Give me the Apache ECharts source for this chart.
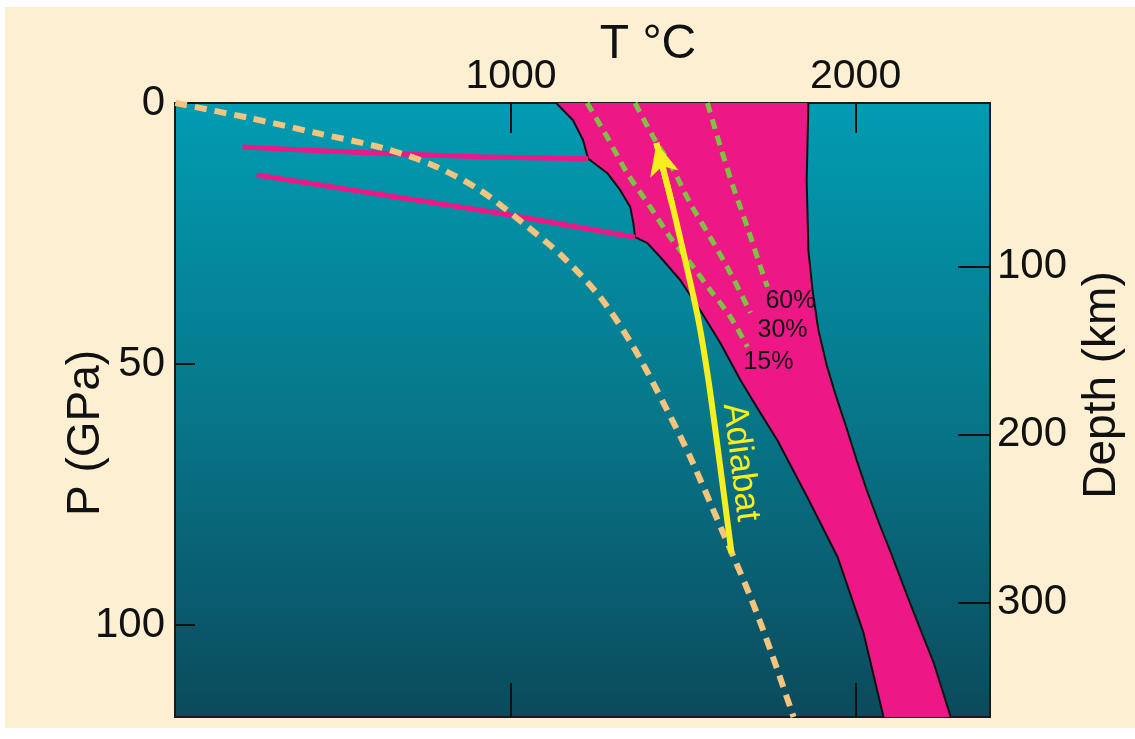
<!DOCTYPE html>
<html>
<head>
<meta charset="utf-8">
<script src="https://cdn.jsdelivr.net/npm/echarts@6/dist/echarts.min.js"></script>
<style>
html,body{margin:0;padding:0;background:#fff}
#main{width:1135px;height:739px}
</style>
</head>
<body>
<div id="main"></div>
<script>
// axis ticks
var tTicks = [1000, 2000];
var pTicks = [0, 50, 100];
var depthTicks = [100, 200, 300];

// solidus (left edge of melt field)
var solidusT = [1131, 1180, 1209, 1224, 1233, 1279, 1317, 1346, 1355, 1360, 1395, 1433, 1491, 1549, 1608, 1666, 1724, 1773, 1860, 1948, 2023, 2081];
var solidusP = [0, 3.3, 7.1, 10.7, 11.1, 13.4, 16.7, 19.9, 23.0, 25.7, 26.8, 29.5, 33.9, 39.7, 46.0, 53.1, 59.4, 64.6, 75.5, 87.0, 101.5, 117.6];

// liquidus (right edge of melt field)
var liquidusT = [1863, 1858, 1863, 1875, 1892, 1916, 1942, 1974, 2003, 2032, 2067, 2105, 2151, 2189, 2227, 2276];
var liquidusP = [0, 14.8, 28.2, 35.8, 43.5, 50.2, 55.9, 62.3, 68.4, 74.1, 80.3, 86.6, 94.6, 101.0, 107.3, 117.6];

// the two pink lines meeting the solidus
var upperLineT = [221, 532, 910, 1224];
var upperLineP = [8.43, 9.39, 10.3, 10.7];
var lowerLineT = [262, 968, 1360];
var lowerLineP = [13.8, 21.1, 25.7];

// geotherm (dashed)
var geothermT = [26, 241, 436, 628, 773, 910, 1035, 1151, 1259, 1355, 1453, 1520, 1616, 1695, 1753, 1820];
var geothermP = [0, 2.87, 5.75, 8.62, 11.9, 16.7, 23.0, 29.5, 37.2, 46.7, 58.8, 67.8, 82.4, 94.6, 104.8, 117.6];

// melt fraction isopleths
var melt15T = [1221, 1279, 1337, 1404, 1462, 1529, 1578, 1637, 1686];
var melt15P = [0, 6.51, 13.4, 19.9, 25.7, 31.4, 35.8, 41.0, 46.7];
var melt30T = [1360, 1413, 1471, 1520, 1578, 1637, 1695];
var melt30P = [0, 6.51, 12.8, 19.2, 25.7, 32.6, 40.2];
var melt60T = [1570, 1608, 1645, 1686, 1724, 1744];
var melt60P = [0, 8.43, 16.1, 23.8, 31.4, 35.2];

// adiabat (bottom to top)
var adiabatT = [1640, 1605, 1573, 1544, 1512, 1468, 1422];
var adiabatP = [86.2, 68.6, 53.1, 41.6, 32.0, 19.5, 7.66];

var FONT = '"Liberation Sans", Arial, sans-serif';

function pts(ts, ps) {
    return ts.map(function (t, i) { return [t, ps[i]]; });
}
function plain(v) {
    return String(v);
}

var chart = echarts.init(document.getElementById('main'));
var n = adiabatT.length;

function meltLine(name, ts, ps, off) {
    return {
        name: name,
        type: 'line',
        data: pts(ts, ps),
        smooth: 0.3,
        symbol: 'none',
        lineStyle: {color: '#7dc243', width: 5, type: [10, 7]},
        endLabel: {
            show: true,
            formatter: name,
            distance: 0,
            offset: off,
            align: 'left',
            verticalAlign: 'middle',
            fontSize: 25,
            fontFamily: FONT,
            color: '#111'
        },
        z: 4
    };
}

var option = {
    animation: false,
    backgroundColor: 'transparent',
    graphic: [
        {type: 'rect', shape: {x: 5, y: 7, width: 1130, height: 721}, style: {fill: '#fdf0d2'}, z: -100},
        {type: 'text', x: 648, y: 45, style: {text: 'T °C', fontSize: 48, fontFamily: FONT, fill: '#111', align: 'center', verticalAlign: 'middle'}},
        {type: 'text', x: 86, y: 433, rotation: Math.PI / 2, style: {text: 'P (GPa)', fontSize: 46, fontFamily: FONT, fill: '#111', align: 'center', verticalAlign: 'middle'}},
        {type: 'text', x: 1102, y: 385, rotation: Math.PI / 2, style: {text: 'Depth (km)', fontSize: 46, fontFamily: FONT, fill: '#111', align: 'center', verticalAlign: 'middle'}}
    ],
    grid: {
        left: 175, top: 103, width: 815, height: 614,
        show: true,
        borderColor: '#1a1a1a',
        borderWidth: 2,
        backgroundColor: new echarts.graphic.LinearGradient(0, 0, 0, 1, [
            {offset: 0, color: '#019cb3'},
            {offset: 0.5, color: '#07778a'},
            {offset: 1, color: '#0b4a5c'}
        ])
    },
    xAxis: [
        {
            type: 'value', position: 'top', min: 25, max: 2390,
            axisLine: {show: false}, splitLine: {show: false},
            axisTick: {inside: true, length: 30, customValues: tTicks, lineStyle: {color: '#111', width: 2}},
            axisLabel: {customValues: tTicks, formatter: plain, fontSize: 41, fontFamily: FONT, color: '#111', margin: 6}
        },
        {
            type: 'value', position: 'bottom', min: 25, max: 2390,
            axisLine: {show: false}, splitLine: {show: false},
            axisTick: {inside: true, length: 34, customValues: tTicks, lineStyle: {color: '#111', width: 2}},
            axisLabel: {show: false}
        }
    ],
    yAxis: [
        {
            type: 'value', position: 'left', inverse: true, min: 0, max: 117.6,
            axisLine: {show: false}, splitLine: {show: false},
            axisTick: {inside: true, length: 20, customValues: pTicks, lineStyle: {color: '#111', width: 2}},
            axisLabel: {customValues: pTicks, formatter: plain, fontSize: 42, fontFamily: FONT, color: '#111', margin: 10}
        },
        {
            type: 'value', position: 'right', inverse: true, min: 2.4, max: 368,
            axisLine: {show: false}, splitLine: {show: false},
            axisTick: {inside: true, length: 32, customValues: depthTicks, lineStyle: {color: '#111', width: 2}},
            axisLabel: {customValues: depthTicks, formatter: plain, fontSize: 42, fontFamily: FONT, color: '#111', margin: 7}
        }
    ],
    series: [
        {
            name: 'melt',
            type: 'custom',
            silent: true,
            data: [[solidusT[0], solidusP[0]]],
            renderItem: function (params, api) {
                var poly = [];
                for (var i = 0; i < solidusT.length; i++) poly.push(api.coord([solidusT[i], solidusP[i]]));
                for (var j = liquidusT.length - 1; j >= 0; j--) poly.push(api.coord([liquidusT[j], liquidusP[j]]));
                return {type: 'polygon', shape: {points: poly}, style: {fill: '#ee1786'}};
            },
            z: 1
        },
        {name: 'solidus', type: 'line', data: pts(solidusT, solidusP), symbol: 'none',
            lineStyle: {color: '#111', width: 2}, z: 2},
        {name: 'liquidus', type: 'line', data: pts(liquidusT, liquidusP), symbol: 'none',
            lineStyle: {color: '#111', width: 2}, z: 2},
        {name: 'upper', type: 'line', data: pts(upperLineT, upperLineP), symbol: 'none', smooth: 0.3,
            lineStyle: {color: '#ee1786', width: 5}, z: 3},
        {name: 'lower', type: 'line', data: pts(lowerLineT, lowerLineP), symbol: 'none',
            lineStyle: {color: '#ee1786', width: 5}, z: 3},
        {name: 'geotherm', type: 'line', data: pts(geothermT, geothermP), symbol: 'none', smooth: 0.3,
            lineStyle: {color: '#f6c47c', width: 6, type: [12, 8]}, z: 3},
        meltLine('60%', melt60T, melt60P, [-2, 14]),
        meltLine('30%', melt30T, melt30P, [7, 17]),
        meltLine('15%', melt15T, melt15P, [-4, 15]),
        {
            name: 'adiabat', type: 'line', data: pts(adiabatT, adiabatP), symbol: 'none', smooth: 0.3,
            lineStyle: {color: '#f7ee1f', width: 6}, z: 5,
            markLine: {
                silent: true,
                symbol: ['none', 'arrow'],
                symbolSize: [22, 32],
                lineStyle: {color: '#f7ee1f', width: 6, type: 'solid'},
                label: {show: false},
                data: [[{coord: [adiabatT[n - 2], adiabatP[n - 2]]}, {coord: [adiabatT[n - 1], adiabatP[n - 1]]}]]
            },
            markPoint: {
                silent: true,
                symbolSize: 0,
                data: [{coord: [1666, 68.8]}],
                label: {show: true, formatter: 'Adiabat', rotate: -83, fontSize: 35, fontFamily: FONT, color: '#f7ee1f', position: 'inside'}
            }
        }
    ]
};

chart.setOption(option);
</script>
</body>
</html>
